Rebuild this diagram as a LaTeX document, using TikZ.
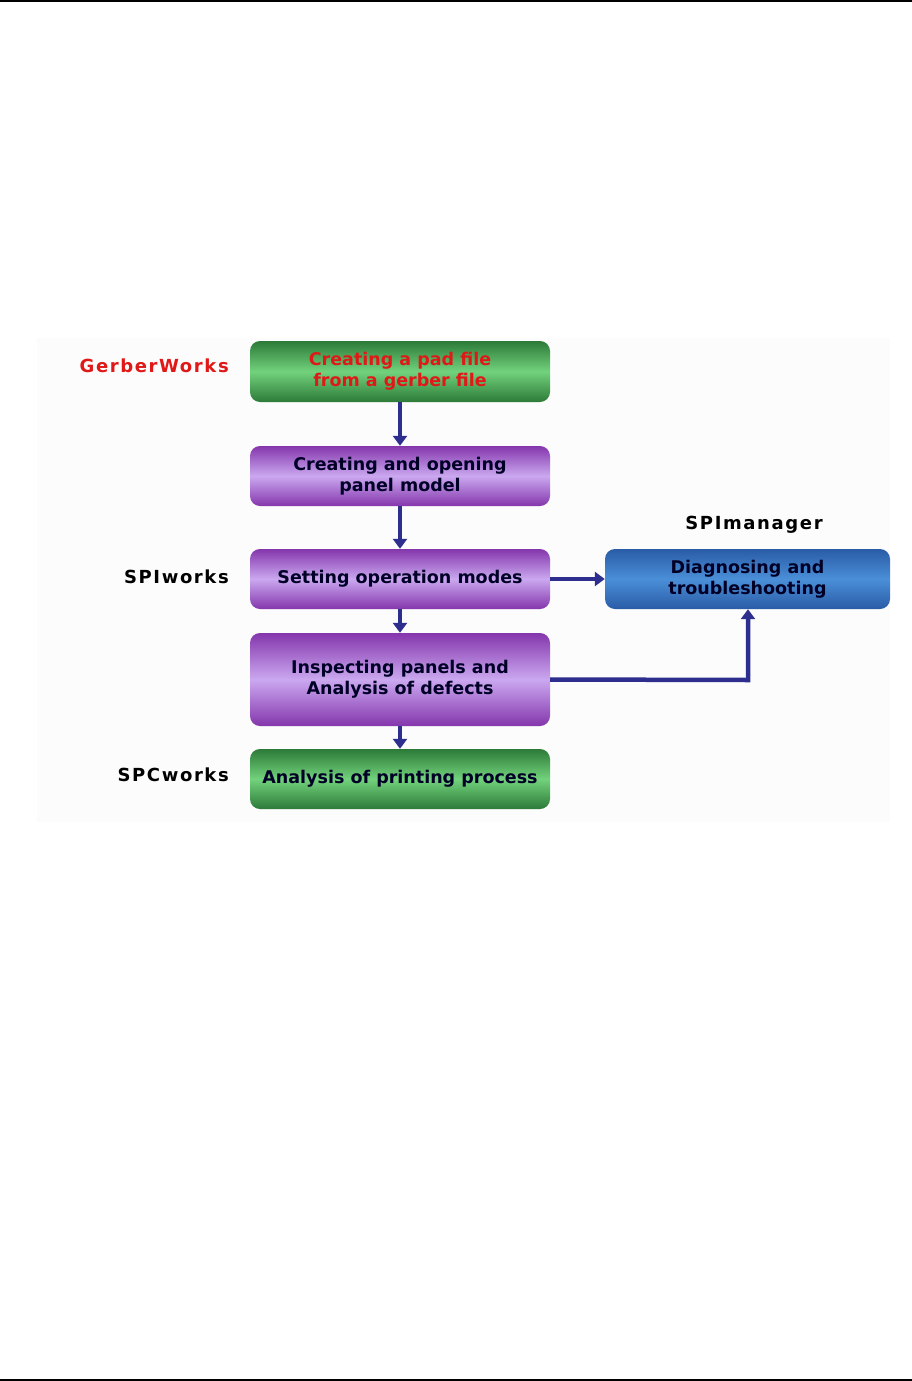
\documentclass[tikz,border=0pt]{standalone}
\usepackage{fontspec}
\setmainfont{DejaVu Sans}
\newfontfamily\labfont[LetterSpace=9]{DejaVu Sans}
\usetikzlibrary{arrows.meta}
\definecolor{gdark}{HTML}{2C7A38}
\definecolor{glight}{HTML}{72D27C}
\definecolor{pdark}{HTML}{8436AC}
\definecolor{plight}{HTML}{CBA8F0}
\definecolor{bdark}{HTML}{2A5CA6}
\definecolor{blight}{HTML}{4A8FD8}
\definecolor{arrowblue}{HTML}{2E2E8E}
\definecolor{redtext}{HTML}{E01818}
\tikzset{
  box/.style={rounded corners=10pt, draw=none, minimum width=300pt, align=center,
    font=\fontsize{17.5}{21}\selectfont\bfseries, text=black!85!blue, inner sep=0pt},
  greenbox/.style={box, top color=gdark, bottom color=gdark, middle color=glight},
  purplebox/.style={box, top color=pdark, bottom color=pdark, middle color=plight},
  bluebox/.style={box, top color=bdark, bottom color=bdark, middle color=blight},
  lab/.style={font=\labfont\fontsize{18}{21}\selectfont\bfseries, anchor=east, inner sep=0pt},
  flow/.style={draw=arrowblue, line width=4.5pt, -{Triangle[length=10pt,width=14pt]}},
}
\begin{document}
\begin{tikzpicture}[x=1pt,y=-1pt]
\useasboundingbox (0,0) rectangle (912,1381);
\fill[white] (0,0) rectangle (912,1381);
\fill[gray!2] (37,338) rectangle (890,822);
\draw[line width=2pt] (0,1) -- (912,1);
\draw[line width=2pt] (0,1379.5) -- (912,1379.5);

\node[greenbox, minimum height=61pt, text=redtext] (b1) at (400,371.5) {Creating a pad file\\from a gerber file};
\node[purplebox, minimum height=60pt] (b2) at (400,476) {Creating and opening\\panel model};
\node[purplebox, minimum height=60pt] (b3) at (400,579) {Setting operation modes};
\node[purplebox, minimum height=93pt] (b4) at (400,679.5) {Inspecting panels and\\Analysis of defects};
\node[greenbox, minimum height=60pt] (b5) at (400,779) {Analysis of printing process};
\node[bluebox, minimum width=285pt, minimum height=60pt] (b6) at (747.5,579) {Diagnosing and\\troubleshooting};

\node[lab, text=redtext] (l1) at (229,366) {GerberWorks};
\node[lab] (l2) at (229,577) {SPIworks};
\node[lab] (l3) at (229,775) {SPCworks};
\node[lab, anchor=center] (l4) at (754,525) {SPImanager};

\draw[flow] (b1.south) -- (b2.north);
\draw[flow] (b2.south) -- (b3.north);
\draw[flow] (b3.south) -- (b4.north);
\draw[flow] (b4.south) -- (b5.north);
\draw[flow] (b3.east) -- (b6.west);
\coordinate (c1) at (748,680);
\draw[flow] (b4.east) -- (c1) -- (b6.south -| c1);
\end{tikzpicture}
\end{document}
